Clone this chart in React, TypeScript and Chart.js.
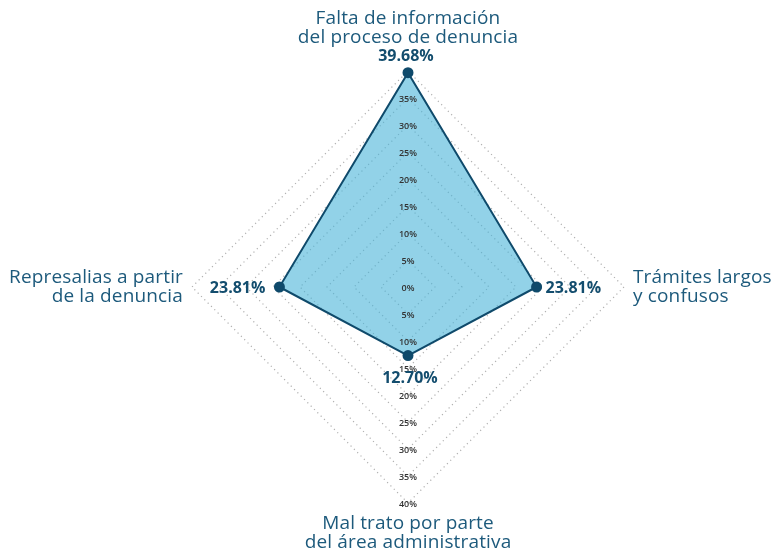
import React, { useEffect, useRef } from 'react';
import { Chart, registerables } from 'chart.js';

Chart.register(...registerables);

const categories: string[][] = [
  ['Falta de información', 'del proceso de denuncia'],
  ['Trámites largos', 'y confusos'],
  ['Mal trato por parte', 'del área administrativa'],
  ['Represalias a partir', 'de la denuncia'],
];
const values = [39.68, 23.81, 12.7, 23.81];
const valueLabels = ['39.68%', '23.81%', '12.70%', '23.81%'];
const upperTicks = [0, 5, 10, 15, 20, 25, 30, 35];
const lowerTicks = [5, 10, 15, 20, 25, 30, 35, 40];

const LABEL_COLOR = '#1d5a7c';
const VALUE_COLOR = '#134d6e';
const TICK_COLOR = '#333333';

const labelsPlugin = {
  id: 'customLabels',
  afterDatasetsDraw(chart: any) {
    const scale = chart.scales.r;
    const ctx = chart.ctx as CanvasRenderingContext2D;
    const r = scale.drawingArea;
    const cx = scale.xCenter;
    const cy = scale.yCenter;
    ctx.save();

    // tick labels
    ctx.font = '600 9px "Open Sans"';
    ctx.fillStyle = TICK_COLOR;
    ctx.textAlign = 'center';
    ctx.textBaseline = 'middle';
    upperTicks.forEach((v) => {
      const d = scale.getDistanceFromCenterForValue(v);
      ctx.fillText(v + '%', cx, cy - d + 1);
    });
    lowerTicks.forEach((v) => {
      const d = scale.getDistanceFromCenterForValue(v);
      ctx.fillText(v + '%', cx, cy + d + 1);
    });

    // value labels
    ctx.font = '700 16px "Open Sans"';
    ctx.fillStyle = VALUE_COLOR;
    values.forEach((v, i) => {
      const p = scale.getPointPosition(i, scale.getDistanceFromCenterForValue(v));
      const t = valueLabels[i];
      if (i === 0) {
        ctx.textAlign = 'center';
        ctx.fillText(t, p.x - 2, p.y - 16);
      } else if (i === 1) {
        ctx.textAlign = 'left';
        ctx.fillText(t, p.x + 9, p.y + 1);
      } else if (i === 2) {
        ctx.textAlign = 'center';
        ctx.fillText(t, p.x + 2, p.y + 23);
      } else {
        ctx.textAlign = 'right';
        ctx.fillText(t, p.x - 14, p.y + 1);
      }
    });

    // point labels
    const lh = 19;
    ctx.font = '400 19px "Open Sans"';
    (ctx as any).letterSpacing = '0.15px';
    ctx.fillStyle = LABEL_COLOR;
    categories.forEach((lines, i) => {
      if (i === 0) {
        const p = scale.getPointPosition(0, r + 24);
        ctx.textAlign = 'center';
        lines.forEach((l, k) => {
          ctx.fillText(l, p.x, p.y - lh / 2 - (lines.length - 1 - k) * lh);
        });
      } else if (i === 1) {
        const p = scale.getPointPosition(1, r + 9);
        ctx.textAlign = 'left';
        lines.forEach((l, k) => {
          ctx.fillText(l, p.x, p.y + (k - (lines.length - 1) / 2) * lh);
        });
      } else if (i === 2) {
        const p = scale.getPointPosition(2, r + 11);
        ctx.textAlign = 'center';
        lines.forEach((l, k) => {
          ctx.fillText(l, p.x, p.y + lh / 2 + k * lh);
        });
      } else {
        const p = scale.getPointPosition(3, r + 9);
        ctx.textAlign = 'right';
        lines.forEach((l, k) => {
          ctx.fillText(l, p.x, p.y + (k - (lines.length - 1) / 2) * lh);
        });
      }
    });
    ctx.restore();
  },
};

export default function App() {
  const ref = useRef<HTMLCanvasElement>(null);
  useEffect(() => {
    document.body.style.margin = '0';
    const chart = new Chart(ref.current!, {
      type: 'radar',
      data: {
        labels: categories.map((c) => c.join(' ')),
        datasets: [
          {
            data: values,
            backgroundColor: 'rgba(73, 180, 217, 0.6)',
            borderColor: '#0f4a6b',
            borderWidth: 2,
            pointBackgroundColor: '#0f4a6b',
            pointBorderColor: '#0f4a6b',
            pointRadius: 4.5,
            fill: true,
          },
        ],
      },
      options: {
        animation: false,
        responsive: false,
        layout: { padding: { left: 192, right: 151, top: 71, bottom: 49 } },
        plugins: { legend: { display: false }, tooltip: { enabled: false } },
        scales: {
          r: {
            min: 0,
            max: 40,
            ticks: { stepSize: 5, display: false },
            pointLabels: { display: false },
            angleLines: { display: false },
            grid: { color: '#b0b0b0', lineWidth: 1.2 },
            border: { dash: [1.2, 3.5] },
          },
        },
      },
      plugins: [labelsPlugin],
    });
    return () => chart.destroy();
  }, []);
  return (
    <div style={{ width: 775, height: 552 }}>
      <canvas ref={ref} width={775} height={552} />
    </div>
  );
}
